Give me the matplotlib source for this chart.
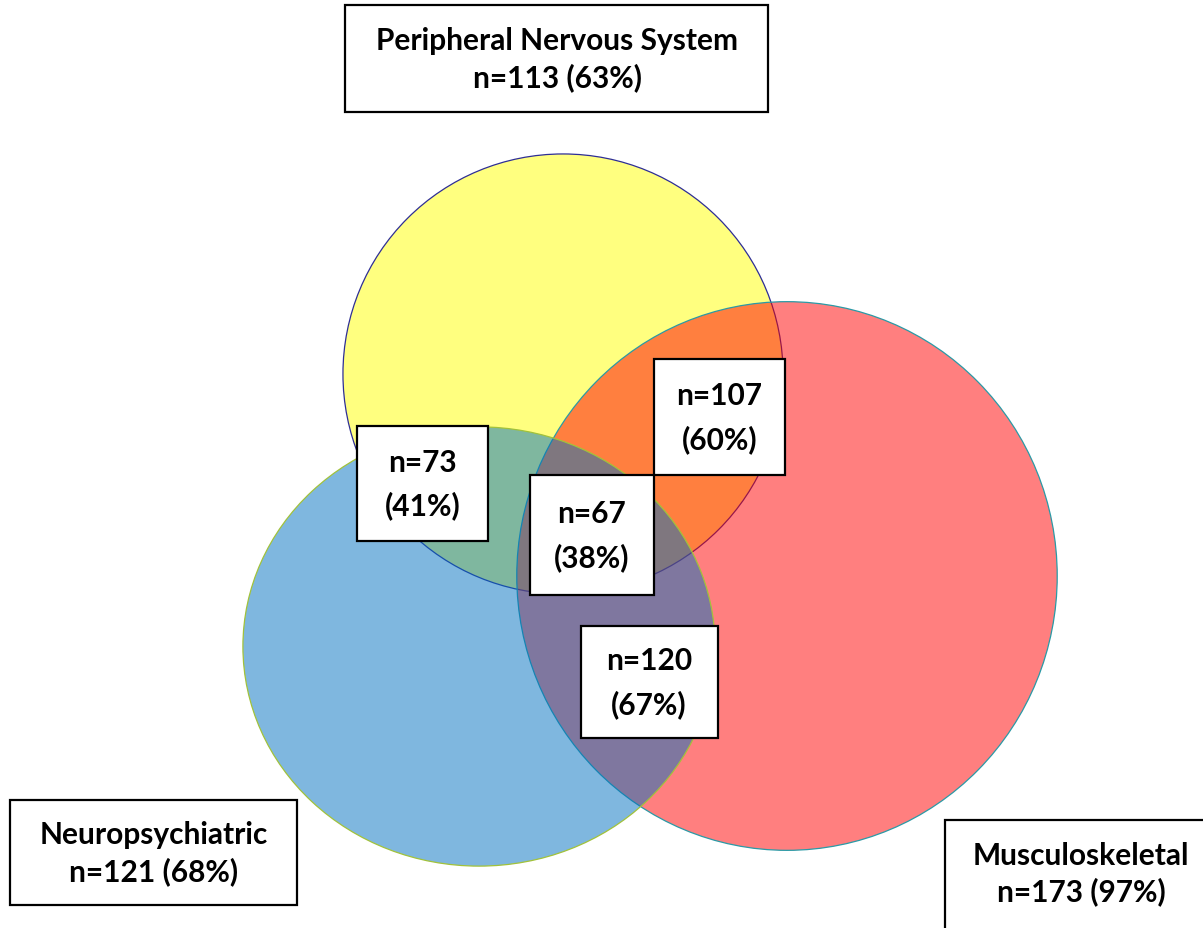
import matplotlib
matplotlib.use("Agg")
import matplotlib.pyplot as plt
import matplotlib.patches as patches
import numpy as np

# ─── data ───
sets = ["Peripheral Nervous System", "Musculoskeletal", "Neuropsychiatric"]
set_n = [113, 173, 121]
set_pct = [63, 97, 68]

overlap_names = ["PNS+MSK", "PNS+NP", "all", "NP+MSK"]
overlap_n = [107, 73, 67, 120]
overlap_pct = [60, 41, 38, 67]

# ─── layout (pixel coords, y down) ───
W, H = 1203, 929
SCALE = 20.7                       # radius = SCALE * sqrt(n)
centers = [(563, 375), (787, 577), (479, 647.5)]
aspect = [1.0, 0.985, 1.075]       # width / height of each shape
face = ["#FFFF00", "#FF0000", "#0070C0"]
edge = ["#2E2E96", "#2A9AA6", "#A2C23A"]

set_boxes = [(345, 6, 768, 113), (945, 821, 1217, 940), (10, 801, 297, 906)]
set_text_xy = [(557, 59.5), (1081, 874), (153.5, 853.5)]
ov_boxes = [(654, 360, 785, 476), (357, 427, 488, 542),
            (529.5, 476, 654, 596), (580.5, 627, 717.5, 739)]

FONT = ["Lato", "DejaVu Sans"]

fig = plt.figure(figsize=(W / 100, H / 100), dpi=100)
ax = fig.add_axes([0, 0, 1, 1])
ax.set_xlim(0, W)
ax.set_ylim(H, 0)
ax.set_aspect("equal")
ax.axis("off")

for (cx, cy), n, a, fc, ec in zip(centers, set_n, aspect, face, edge):
    r = SCALE * np.sqrt(n)
    w, h = 2 * r * np.sqrt(a), 2 * r / np.sqrt(a)
    ax.add_patch(patches.Ellipse((cx, cy), w, h,
                                 facecolor=matplotlib.colors.to_rgba(fc, 0.5),
                                 edgecolor=ec, linewidth=0.9))


def label_box(x0, y0, x1, y1, txt, tx=None, ty=None, size=21.5, ls=1.6):
    ax.add_patch(patches.Rectangle((x0, y0), x1 - x0, y1 - y0,
                                   facecolor="white", edgecolor="black",
                                   linewidth=1.6, zorder=5))
    tx = (x0 + x1) / 2 if tx is None else tx
    ty = (y0 + y1) / 2 if ty is None else ty
    ax.text(tx, ty, txt, ha="center", va="center", fontsize=size,
            fontweight="bold", family=FONT, linespacing=ls, zorder=6)


for b, (tx, ty), name, n, p in zip(set_boxes, set_text_xy, sets, set_n, set_pct):
    label_box(*b, f"{name}\nn={n} ({p}%)", tx, ty, size=21.5, ls=1.32)

for b, n, p in zip(ov_boxes, overlap_n, overlap_pct):
    label_box(*b, f"n={n}\n({p}%)", size=21.5, ls=1.62)

fig.savefig("out.png", dpi=100, facecolor="white")
